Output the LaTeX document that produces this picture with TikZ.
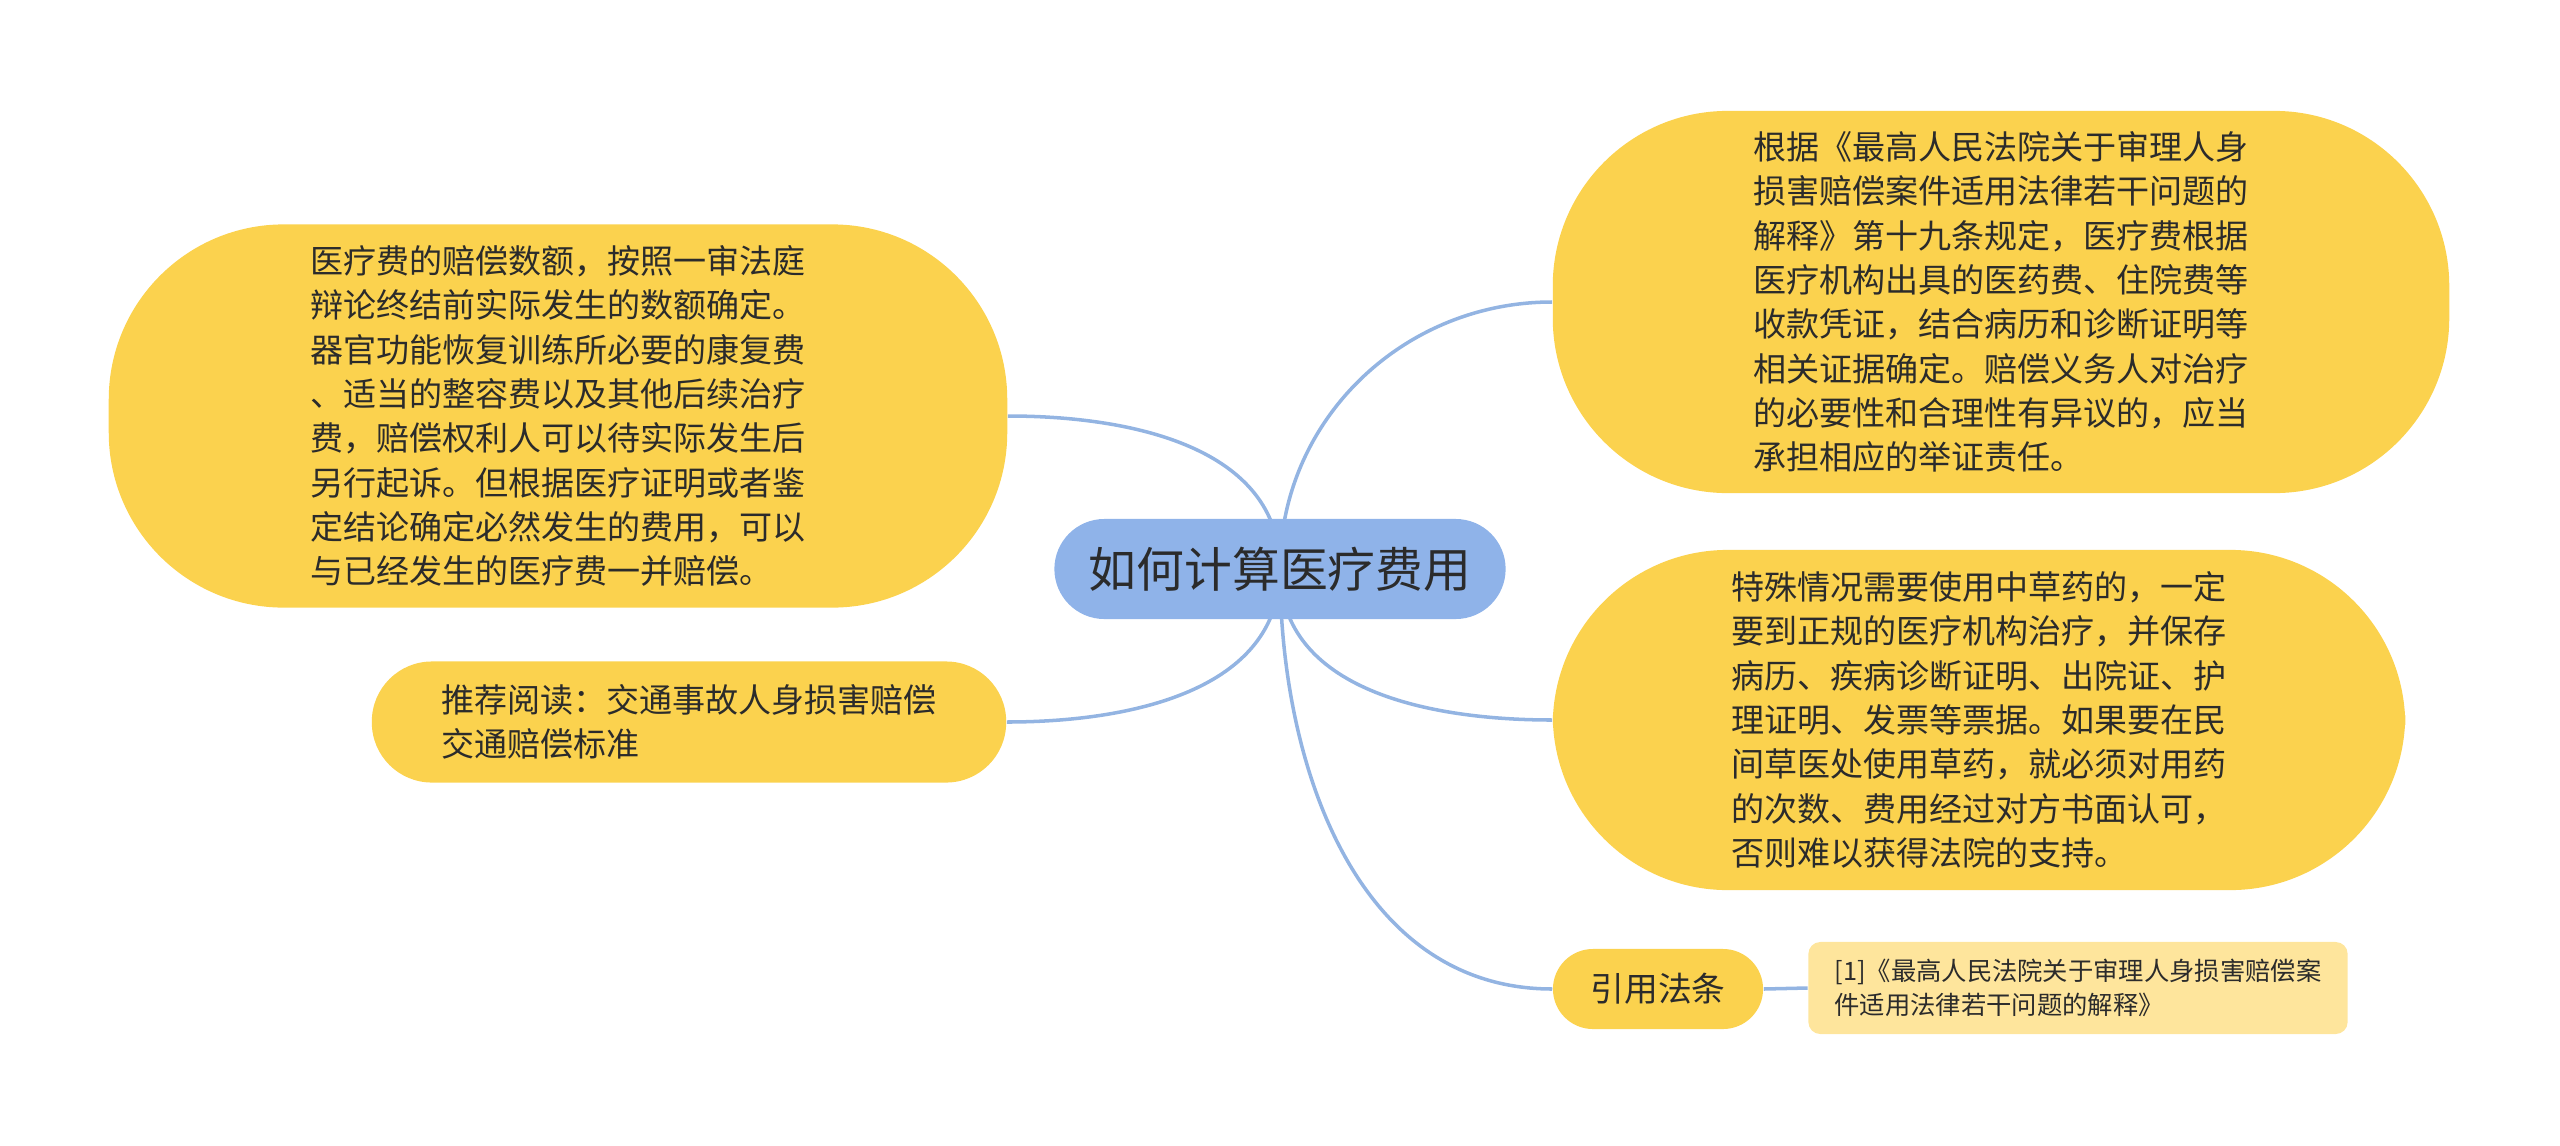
\documentclass[tikz,border=0pt]{standalone}
\usepackage{fontspec}
\setmainfont{Noto Sans CJK SC}
\usetikzlibrary{backgrounds}
\definecolor{topicyellow}{HTML}{FBD24E}
\definecolor{rootblue}{HTML}{8FB3E9}
\definecolor{linkblue}{HTML}{93B4E2}
\definecolor{noteyellow}{HTML}{FEE59C}
\definecolor{inkgray}{HTML}{2B2B2B}

\begin{document}
\begin{tikzpicture}[x=0.01cm,y=-0.01cm,
  topic/.style={fill=topicyellow,text=inkgray,align=left,inner sep=0pt,
    font=\fontsize{9.4}{12.6}\selectfont},
  bigtopic/.style={topic,rounded corners=1.75cm},
  smalltopic/.style={topic,rounded corners=0.6cm},
  link/.style={draw=linkblue,line width=1pt}]
  \useasboundingbox (0,0) rectangle (2560,1145);
  % central topic
  \node[fill=rootblue,text=inkgray,rounded corners=0.5cm,minimum width=4.51cm,
    minimum height=1.0cm,font=\fontsize{13.6}{16}\selectfont] (root) at (1280,569) {如何计算医疗费用};
  % left side
  \node[bigtopic,minimum width=8.98cm,minimum height=3.83cm] (costs) at (558,416)
    {医疗费的赔偿数额，按照一审法庭\\辩论终结前实际发生的数额确定。\\器官功能恢复训练所必要的康复费\\、适当的整容费以及其他后续治疗\\费，赔偿权利人可以待实际发生后\\另行起诉。但根据医疗证明或者鉴\\定结论确定必然发生的费用，可以\\与已经发生的医疗费一并赔偿。};
  \node[smalltopic,minimum width=6.34cm,minimum height=1.21cm] (reading) at (689,722)
    {推荐阅读：交通事故人身损害赔偿\\交通赔偿标准};
  % right side
  \node[bigtopic,minimum width=8.96cm,minimum height=3.82cm] (basis) at (2001,302)
    {根据《最高人民法院关于审理人身\\损害赔偿案件适用法律若干问题的\\解释》第十九条规定，医疗费根据\\医疗机构出具的医药费、住院费等\\收款凭证，结合病历和诊断证明等\\相关证据确定。赔偿义务人对治疗\\的必要性和合理性有异议的，应当\\承担相应的举证责任。};
  \node[bigtopic,minimum width=8.52cm,minimum height=3.40cm] (herbs) at (1979,720)
    {特殊情况需要使用中草药的，一定\\要到正规的医疗机构治疗，并保存\\病历、疾病诊断证明、出院证、护\\理证明、发票等票据。如果要在民\\间草医处使用草药，就必须对用药\\的次数、费用经过对方书面认可，\\否则难以获得法院的支持。};
  \node[topic,rounded corners=0.4cm,minimum width=2.10cm,minimum height=0.80cm,
    font=\fontsize{9.6}{12}\selectfont] (law) at (1658,989) {引用法条};
  \node[fill=noteyellow,text=inkgray,align=left,rounded corners=0.12cm,inner sep=0pt,
    minimum width=5.39cm,minimum height=0.92cm,font=\fontsize{7.2}{9.7}\selectfont] (lawnote) at (2078,988)
    {[1]《最高人民法院关于审理人身损害赔偿案\\件适用法律若干问题的解释》};
  % connectors
  \begin{scope}[on background layer]
    \draw[link] (root.center) to[out=90,in=0] (costs.east);
    \draw[link] (root.center) to[out=-90,in=0] (reading.east);
    \draw[link] (root.center) to[out=90,in=180] (basis.west);
    \draw[link] (root.center) to[out=-90,in=180] (herbs.west);
    \draw[link] (root.center) to[out=-90,in=180] (law.west);
    \draw[link] (law.east) -- (lawnote.west);
  \end{scope}
\end{tikzpicture}
\end{document}
